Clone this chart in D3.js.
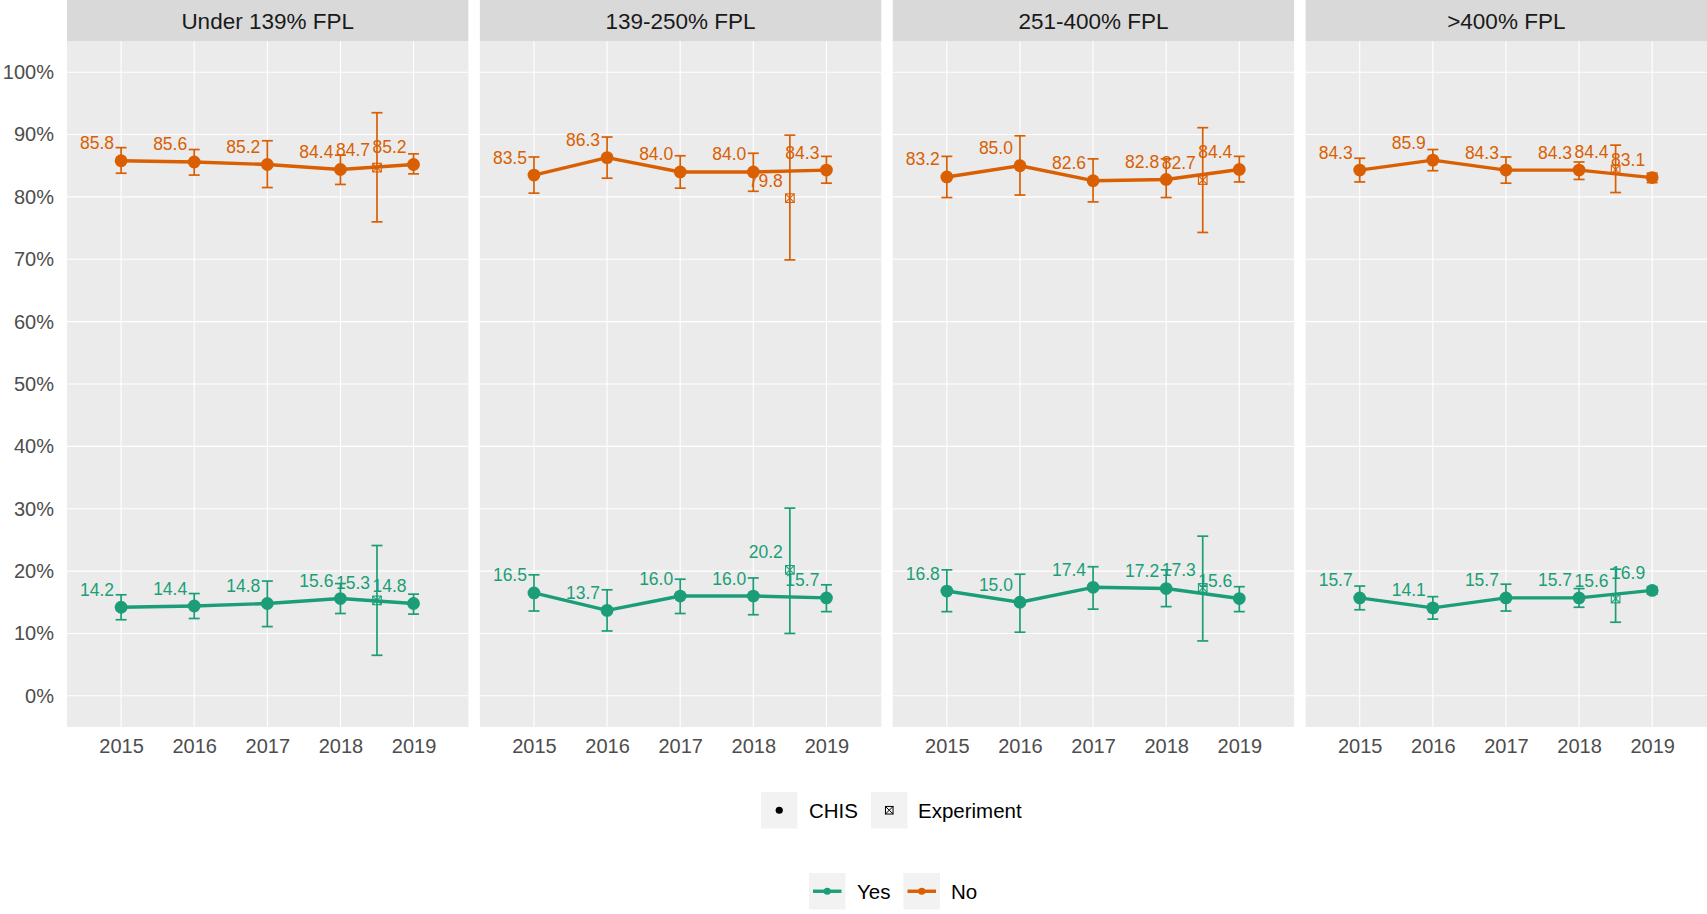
<!DOCTYPE html>
<html>
<head>
<meta charset="utf-8">
<script src="https://cdn.jsdelivr.net/npm/d3@7"></script>
<style>
  html, body { margin: 0; padding: 0; background: #ffffff; }
  svg { display: block; font-family: "Liberation Sans", Arial, sans-serif; }
</style>
</head>
<body>
<svg id="chart" width="1707" height="914"></svg>
<script>
// ---------------- DATA ----------------
const panels = ["Under 139% FPL", "139-250% FPL", "251-400% FPL", ">400% FPL"];
const years = [2015, 2016, 2017, 2018, 2018.5, 2019];
const sources = ["CHIS", "CHIS", "CHIS", "CHIS", "Experiment", "CHIS"];
const yearTicks = [2015, 2016, 2017, 2018, 2019];
const yTicks = [0, 10, 20, 30, 40, 50, 60, 70, 80, 90, 100];
const groups = ["Yes", "No"];
const sourceLevels = ["CHIS", "Experiment"];

const noValues = [
  [85.8, 85.6, 85.2, 84.4, 84.7, 85.2],
  [83.5, 86.3, 84.0, 84.0, 79.8, 84.3],
  [83.2, 85.0, 82.6, 82.8, 82.7, 84.4],
  [84.3, 85.9, 84.3, 84.3, 84.4, 83.1]
];
const noLow = [
  [83.8, 83.5, 81.5, 82.0, 76.0, 83.7],
  [80.6, 83.0, 81.4, 80.9, 69.9, 82.2],
  [79.9, 80.3, 79.2, 79.9, 74.3, 82.4],
  [82.4, 84.2, 82.2, 82.8, 80.7, 82.3]
];
const noHigh = [
  [87.9, 87.6, 89.0, 86.7, 93.5, 86.9],
  [86.4, 89.6, 86.6, 87.0, 89.9, 86.5],
  [86.5, 89.8, 86.1, 86.1, 91.1, 86.5],
  [86.2, 87.6, 86.4, 85.6, 88.3, 83.8]
];
const yesValues = [
  [14.2, 14.4, 14.8, 15.6, 15.3, 14.8],
  [16.5, 13.7, 16.0, 16.0, 20.2, 15.7],
  [16.8, 15.0, 17.4, 17.2, 17.3, 15.6],
  [15.7, 14.1, 15.7, 15.7, 15.6, 16.9]
];
const yesLow = [
  [12.2, 12.4, 11.1, 13.2, 6.5, 13.1],
  [13.6, 10.4, 13.2, 13.0, 10.0, 13.5],
  [13.5, 10.2, 13.9, 14.3, 8.8, 13.5],
  [13.8, 12.3, 13.6, 14.2, 11.8, 16.3]
];
const yesHigh = [
  [16.2, 16.4, 18.4, 18.0, 24.1, 16.3],
  [19.4, 17.0, 18.7, 18.9, 30.1, 17.8],
  [20.2, 19.5, 20.7, 20.2, 25.6, 17.5],
  [17.6, 15.9, 17.9, 17.2, 20.3, 17.5]
];

// ---------------- LAYOUT ----------------
const svg = d3.select("#chart");
const colors = { Yes: "#1B9E77", No: "#D95F02" };
const FONT = '"Liberation Sans", Arial, sans-serif';

const plotLeft = 67, plotRight = 1707;
const gap = 11.5;
const nP = panels.length;
const panelW = (plotRight - plotLeft - gap * (nP - 1)) / nP;
const stripTop = 0, stripH = 41;
const panelTop = stripTop + stripH, panelBottom = 727;

const x = d3.scaleLinear().domain([2014.26, 2019.75]).range([0, panelW]);
const y = d3.scaleLinear().domain([-5, 105]).range([panelBottom, panelTop]);

const seriesData = {
  Yes: { v: yesValues, lo: yesLow, hi: yesHigh },
  No:  { v: noValues,  lo: noLow,  hi: noHigh }
};

// y axis labels (left of first panel)
const yAxis = d3.axisLeft(y).tickValues(yTicks).tickFormat(d => d + "%").tickSize(0).tickPadding(13);
const yg = svg.append("g").attr("transform", `translate(${plotLeft},0)`).call(yAxis);
yg.select(".domain").remove();
yg.selectAll("text").attr("font-size", 20).attr("fill", "#4D4D4D").attr("font-family", FONT);

panels.forEach((name, pi) => {
  const px = plotLeft + pi * (panelW + gap);
  const g = svg.append("g").attr("transform", `translate(${px},0)`);

  // strip
  g.append("rect").attr("x", 0).attr("y", stripTop).attr("width", panelW).attr("height", stripH).attr("fill", "#D9D9D9");
  g.append("text").attr("x", panelW / 2).attr("y", stripTop + stripH / 2).attr("dy", "0.36em")
    .attr("text-anchor", "middle").attr("font-size", 22.5).attr("fill", "#1A1A1A").text(name);

  // panel background
  g.append("rect").attr("x", 0).attr("y", panelTop).attr("width", panelW).attr("height", panelBottom - panelTop).attr("fill", "#EBEBEB");

  // grid
  g.selectAll(".hg").data(yTicks).enter().append("line")
    .attr("x1", 0).attr("x2", panelW).attr("y1", d => y(d)).attr("y2", d => y(d))
    .attr("stroke", "#ffffff").attr("stroke-width", 1.1);
  g.selectAll(".vg").data(yearTicks).enter().append("line")
    .attr("x1", d => x(d)).attr("x2", d => x(d)).attr("y1", panelTop).attr("y2", panelBottom)
    .attr("stroke", "#ffffff").attr("stroke-width", 1.1);

  // x axis
  const xAxis = d3.axisBottom(x).tickValues(yearTicks).tickFormat(d3.format("d")).tickSize(0).tickPadding(12);
  const xg = g.append("g").attr("transform", `translate(0,${panelBottom})`).call(xAxis);
  xg.select(".domain").remove();
  xg.selectAll("text").attr("font-size", 20).attr("fill", "#4D4D4D").attr("font-family", FONT);

  groups.forEach(grp => {
    const sd = seriesData[grp];
    const col = colors[grp];
    const pts = years.map((yr, i) => ({ yr, v: sd.v[pi][i], lo: sd.lo[pi][i], hi: sd.hi[pi][i], src: sources[i] }));

    // line (CHIS series only)
    g.append("path").datum(pts.filter(d => d.src === "CHIS"))
      .attr("d", d3.line().x(d => x(d.yr)).y(d => y(d.v)))
      .attr("fill", "none").attr("stroke", col).attr("stroke-width", 3.4).attr("stroke-linejoin", "round");

    // error bars
    const cap = 5.5;
    const eb = g.selectAll(null).data(pts).enter().append("g").attr("stroke", col).attr("stroke-width", 1.7);
    eb.append("line").attr("x1", d => x(d.yr)).attr("x2", d => x(d.yr)).attr("y1", d => y(d.lo)).attr("y2", d => y(d.hi));
    eb.append("line").attr("x1", d => x(d.yr) - cap).attr("x2", d => x(d.yr) + cap).attr("y1", d => y(d.lo)).attr("y2", d => y(d.lo));
    eb.append("line").attr("x1", d => x(d.yr) - cap).attr("x2", d => x(d.yr) + cap).attr("y1", d => y(d.hi)).attr("y2", d => y(d.hi));

    // points: CHIS filled circles
    g.selectAll(null).data(pts.filter(d => d.src === "CHIS")).enter().append("circle")
      .attr("cx", d => x(d.yr)).attr("cy", d => y(d.v)).attr("r", 6.4).attr("fill", col);

    // points: Experiment square-cross
    const s = 4.3;
    const ex = g.selectAll(null).data(pts.filter(d => d.src === "Experiment")).enter().append("g")
      .attr("transform", d => `translate(${x(d.yr)},${y(d.v)})`)
      .attr("stroke", col).attr("stroke-width", 1.1).attr("fill", "none");
    ex.append("rect").attr("x", -s).attr("y", -s).attr("width", 2 * s).attr("height", 2 * s);
    ex.append("line").attr("x1", -s).attr("y1", -s).attr("x2", s).attr("y2", s);
    ex.append("line").attr("x1", -s).attr("y1", s).attr("x2", s).attr("y2", -s);

    // labels
    g.selectAll(null).data(pts).enter().append("text")
      .attr("x", d => x(d.yr) - 7).attr("y", d => y(d.v) - 11.5)
      .attr("text-anchor", "end").attr("font-size", 17.5).attr("fill", col)
      .text(d => d.v.toFixed(1));
  });
});

// ---------------- LEGENDS ----------------
const leg1 = svg.append("g");
const key = 36.5;
const l1 = [{ lab: sourceLevels[0], bx: 761, tx: 809 }, { lab: sourceLevels[1], bx: 871, tx: 918 }];
const l1y = 792;
l1.forEach(d => {
  leg1.append("rect").attr("x", d.bx).attr("y", l1y).attr("width", key).attr("height", key).attr("fill", "#F2F2F2");
  const cx = d.bx + key / 2, cy = l1y + key / 2;
  if (d.lab === "CHIS") {
    leg1.append("circle").attr("cx", cx).attr("cy", cy).attr("r", 3.6).attr("fill", "#000");
  } else {
    const s = 3.8;
    const gg = leg1.append("g").attr("stroke", "#000").attr("stroke-width", 1).attr("fill", "none");
    gg.append("rect").attr("x", cx - s).attr("y", cy - s).attr("width", 2 * s).attr("height", 2 * s);
    gg.append("line").attr("x1", cx - s).attr("y1", cy - s).attr("x2", cx + s).attr("y2", cy + s);
    gg.append("line").attr("x1", cx - s).attr("y1", cy + s).attr("x2", cx + s).attr("y2", cy - s);
  }
  leg1.append("text").attr("x", d.tx).attr("y", cy).attr("dy", "0.36em")
    .attr("font-size", 20.5).attr("fill", "#000").text(d.lab);
});

const leg2 = svg.append("g");
const l2 = [{ lab: groups[0], bx: 809, tx: 857 }, { lab: groups[1], bx: 903.5, tx: 951 }];
const l2y = 873;
l2.forEach(d => {
  leg2.append("rect").attr("x", d.bx).attr("y", l2y).attr("width", key).attr("height", key).attr("fill", "#F2F2F2");
  const cx = d.bx + key / 2, cy = l2y + key / 2;
  leg2.append("line").attr("x1", d.bx + 4).attr("x2", d.bx + key - 4).attr("y1", cy).attr("y2", cy)
    .attr("stroke", colors[d.lab]).attr("stroke-width", 3.4);
  leg2.append("circle").attr("cx", cx).attr("cy", cy).attr("r", 3.6).attr("fill", colors[d.lab]);
  leg2.append("text").attr("x", d.tx).attr("y", cy).attr("dy", "0.36em")
    .attr("font-size", 20.5).attr("fill", "#000").text(d.lab);
});
</script>
</body>
</html>
